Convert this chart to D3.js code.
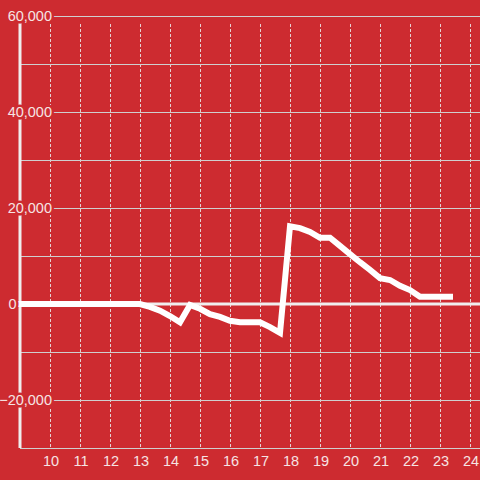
<!DOCTYPE html>
<html>
<head>
<meta charset="utf-8">
<script src="https://cdn.jsdelivr.net/npm/d3@7"></script>
<style>
  body { margin: 0; background: #cd2b30; }
  svg { display: block; }
  .label { font-family: "Liberation Sans", Arial, sans-serif; font-size: 14.5px; fill: #f6e4e4; }
  .ylabel { paint-order: stroke; stroke: #cd2b30; stroke-width: 5px; stroke-linejoin: round; }
</style>
</head>
<body>
<div id="graph"></div>
<script>
// values (time of day -> value)
var times = ['09:00', '10:00', '11:00', '12:00', '13:00', '13:20', '13:40',
  '14:00', '14:20', '14:40', '15:00', '15:20', '15:40', '16:00', '16:20', '16:40',
  '17:00', '17:20', '17:40', '18:00', '18:20', '18:40', '19:00', '19:20', '19:40',
  '20:00', '20:20', '20:40', '21:00', '21:20', '21:40', '22:00', '22:20', '22:40',
  '23:00', '23:20'];
var values = [0, 0, 0, 0, 0, -600, -1400,
  -2500, -3800, -200, -1000, -2100, -2700, -3500, -3800, -3800,
  -3800, -4800, -6000, 16200, 15800, 15000, 13800, 13800, 12100,
  10400, 8700, 7100, 5400, 5000, 3800, 2900, 1500, 1500,
  1500, 1500];

// axis ticks
var xTicks = [10, 11, 12, 13, 14, 15, 16, 17, 18, 19, 20, 21, 22, 23, 24];
var yTicks = [-20000, 0, 20000, 40000, 60000];
var yGrid = [-20000, -10000, 10000, 20000, 30000, 40000, 50000, 60000];

var width = 480;
var height = 480;

// turn "HH:MM" into decimal hours
var toHours = function(t) {
  var p = t.split(':');
  return +p[0] + (+p[1]) / 60;
};

var data = times.map(function(t, i) {
  return { hour: toHours(t), value: values[i] };
});

var x = d3.scaleLinear().domain([9, 24 + 1 / 3]).range([20, 480]);
var y = d3.scaleLinear().domain([-30000, 60000]).range([448, 16]);

var svg = d3.select('#graph')
  .append('svg')
  .attr('width', width)
  .attr('height', height);

svg.append('rect')
  .attr('width', width)
  .attr('height', height)
  .attr('fill', '#cd2b30');

// vertical dashed grid
svg.append('g')
  .selectAll('line')
  .data(xTicks)
  .enter().append('line')
  .attr('x1', function(d) { return x(d) + 0.5; })
  .attr('x2', function(d) { return x(d) + 0.5; })
  .attr('y1', 24)
  .attr('y2', y(-30000))
  .attr('stroke', '#e6d2d2')
  .attr('stroke-width', 1)
  .attr('stroke-dasharray', '3,2');

// horizontal grid
svg.append('g')
  .selectAll('line')
  .data(yGrid)
  .enter().append('line')
  .attr('x1', x(9))
  .attr('x2', width)
  .attr('y1', function(d) { return y(d) + 0.5; })
  .attr('y2', function(d) { return y(d) + 0.5; })
  .attr('stroke', '#cfcfcf')
  .attr('stroke-width', 1);

// bottom axis line
svg.append('line')
  .attr('x1', x(9))
  .attr('x2', width)
  .attr('y1', y(-30000) + 0.5)
  .attr('y2', y(-30000) + 0.5)
  .attr('stroke', '#cfcfcf');

// zero line
svg.append('line')
  .attr('x1', x(9))
  .attr('x2', width)
  .attr('y1', y(0))
  .attr('y2', y(0))
  .attr('stroke', '#f0eeee')
  .attr('stroke-width', 3);

// left axis line
svg.append('line')
  .attr('x1', x(9))
  .attr('x2', x(9))
  .attr('y1', y(60000))
  .attr('y2', y(-30000))
  .attr('stroke', '#f0eeee')
  .attr('stroke-width', 3);

// data line
var valueline = d3.line()
  .x(function(d) { return x(d.hour); })
  .y(function(d) { return y(d.value); });

svg.append('path')
  .datum(data)
  .attr('d', valueline)
  .attr('fill', 'none')
  .attr('stroke', '#ffffff')
  .attr('stroke-width', 6)
  .attr('stroke-linecap', 'square');

// y labels (drawn on top with a red halo)
var fmt = d3.format(',');
svg.append('g')
  .selectAll('text')
  .data(yTicks)
  .enter().append('text')
  .attr('class', 'label ylabel')
  .attr('x', function(d) { return d === 0 ? 16.5 : 52; })
  .attr('y', function(d) { return y(d); })
  .attr('dy', '0.35em')
  .attr('text-anchor', 'end')
  .text(function(d) { return fmt(d); });

// x labels
svg.append('g')
  .selectAll('text')
  .data(xTicks)
  .enter().append('text')
  .attr('class', 'label')
  .attr('x', function(d) { return x(d) + 1; })
  .attr('y', 466)
  .attr('text-anchor', 'middle')
  .text(function(d) { return d; });
</script>
</body>
</html>
